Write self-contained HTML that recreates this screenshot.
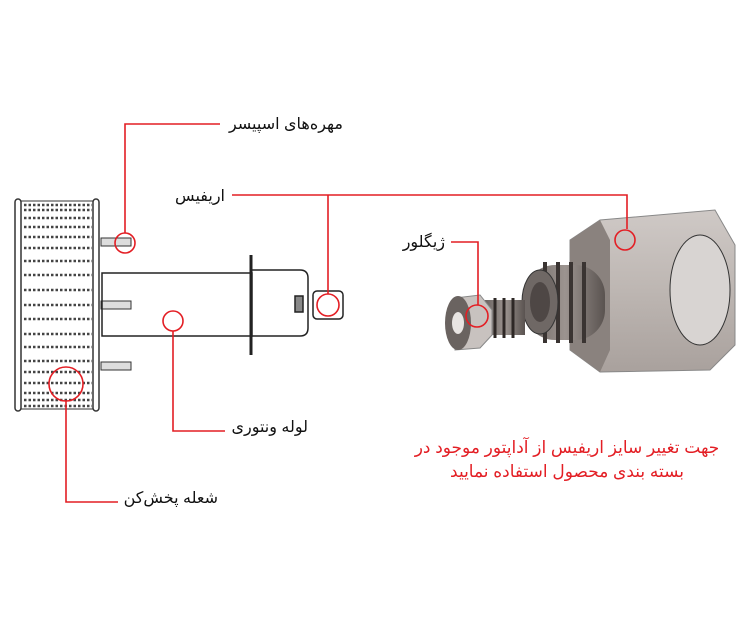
<!DOCTYPE html>
<html><head><meta charset="utf-8"><style>
html,body{margin:0;padding:0;background:#fff}
svg{display:block}
.l{font-family:"Liberation Sans","DejaVu Sans",sans-serif;font-size:16px;fill:#111}
.r{font-family:"Liberation Sans","DejaVu Sans",sans-serif;font-size:17px;fill:#e31e24}
</style></head><body>
<svg width="750" height="627" viewBox="0 0 750 627" xmlns="http://www.w3.org/2000/svg">
<defs>
<linearGradient id="hex" x1="0" y1="0" x2="0" y2="1"><stop offset="0" stop-color="#cfc9c6"/><stop offset="0.5" stop-color="#bdb6b2"/><stop offset="1" stop-color="#a9a19d"/></linearGradient>
<linearGradient id="thr" x1="0" y1="0" x2="1" y2="0"><stop offset="0" stop-color="#6a6360"/><stop offset="0.5" stop-color="#9c9490"/><stop offset="1" stop-color="#5a5350"/></linearGradient>
</defs>
<g stroke="#333" fill="none">
<rect x="15" y="199" width="6" height="212" rx="3" stroke-width="1.5"/>
<rect x="93" y="199" width="6" height="212" rx="3" stroke-width="1.5"/>
<line x1="21" y1="201" x2="93" y2="201"/>
<line x1="21" y1="409" x2="93" y2="409"/>
</g>
<g stroke="#444" stroke-width="2.5" stroke-dasharray="2.5 2">
<line x1="24" y1="205" x2="92" y2="205"/><line x1="24" y1="210" x2="92" y2="210"/>
<line x1="24" y1="218" x2="92" y2="218"/><line x1="24" y1="227" x2="92" y2="227"/>
<line x1="24" y1="237" x2="92" y2="237"/><line x1="24" y1="248" x2="92" y2="248"/>
<line x1="24" y1="261" x2="92" y2="261"/><line x1="24" y1="275" x2="92" y2="275"/>
<line x1="24" y1="290" x2="92" y2="290"/><line x1="24" y1="305" x2="92" y2="305"/>
<line x1="24" y1="319" x2="92" y2="319"/><line x1="24" y1="334" x2="92" y2="334"/>
<line x1="24" y1="347" x2="92" y2="347"/><line x1="24" y1="361" x2="92" y2="361"/>
<line x1="24" y1="372" x2="92" y2="372"/><line x1="24" y1="383" x2="92" y2="383"/>
<line x1="24" y1="393" x2="92" y2="393"/><line x1="24" y1="400" x2="92" y2="400"/>
<line x1="24" y1="406" x2="92" y2="406"/>
</g>
<g stroke="#333" fill="#ddd">
<rect x="101" y="238" width="30" height="8"/><rect x="101" y="301" width="30" height="8"/><rect x="101" y="362" width="30" height="8"/>
</g>
<g stroke="#222" fill="none" stroke-width="1.5">
<rect x="102" y="273" width="150" height="63"/>
<line x1="251" y1="255" x2="251" y2="355" stroke-width="3"/>
<path d="M252 270 H300 Q308 270 308 278 V328 Q308 336 300 336 H252"/>
<rect x="313" y="291" width="30" height="28" rx="4"/>
<rect x="295" y="296" width="8" height="16" fill="#888"/>
</g>
<polygon points="570,240 600,220 715,210 735,245 735,345 710,370 600,372 570,350" fill="url(#hex)" stroke="#888"/>
<polygon points="570,240 600,220 610,240 610,350 600,372 570,350" fill="#8a827e"/>
<ellipse cx="700" cy="290" rx="30" ry="55" fill="#d8d4d2" stroke="#333"/>
<rect x="525" y="265" width="80" height="75" rx="30" fill="url(#thr)"/>
<g stroke="#3a3432" stroke-width="4"><line x1="545" y1="262" x2="545" y2="343"/><line x1="558" y1="262" x2="558" y2="343"/><line x1="571" y1="262" x2="571" y2="343"/><line x1="584" y1="262" x2="584" y2="343"/></g>
<ellipse cx="540" cy="302" rx="18" ry="32" fill="#6f6865" stroke="#333"/>
<ellipse cx="540" cy="302" rx="10" ry="20" fill="#4e4745"/>
<rect x="485" y="300" width="40" height="35" fill="url(#thr)"/>
<g stroke="#2e2826" stroke-width="3"><line x1="495" y1="298" x2="495" y2="338"/><line x1="504" y1="298" x2="504" y2="338"/><line x1="513" y1="298" x2="513" y2="338"/></g>
<polygon points="455,298 480,295 492,310 492,335 480,348 455,350" fill="#c8c2bf" stroke="#888"/>
<ellipse cx="458" cy="323" rx="13" ry="27" fill="#6a6360"/>
<ellipse cx="458" cy="323" rx="6" ry="11" fill="#e8e4e2"/>
<g stroke="#e31e24" stroke-width="1.6" fill="none">
<path d="M220 124 H125 V233"/><circle cx="125" cy="243" r="10"/>
<path d="M232 195 H627 V229"/><path d="M328 195 V294"/><circle cx="328" cy="305" r="11"/><circle cx="625" cy="240" r="10"/>
<circle cx="173" cy="321" r="10"/><path d="M173 331 V431 H225"/>
<circle cx="66" cy="384" r="17"/><path d="M66 401 V502 H118"/>
<path d="M451 242 H478 V305"/><circle cx="477" cy="316" r="11"/>
</g>
<g class="l" text-anchor="end">
<text x="343" y="129">مهره‌های اسپیسر</text>
<text x="225" y="201">اریفیس</text>
<text x="308" y="432">لوله ونتوری</text>
<text x="218" y="503">شعله پخش‌کن</text>
<text x="445" y="247">ژیگلور</text>
</g>
<text class="r" x="567" y="453" text-anchor="middle">جهت تغییر سایز اریفیس از آداپتور موجود در</text>
<text class="r" x="567" y="477" text-anchor="middle">بسته بندی محصول استفاده نمایید</text>
</svg>
</body></html>
